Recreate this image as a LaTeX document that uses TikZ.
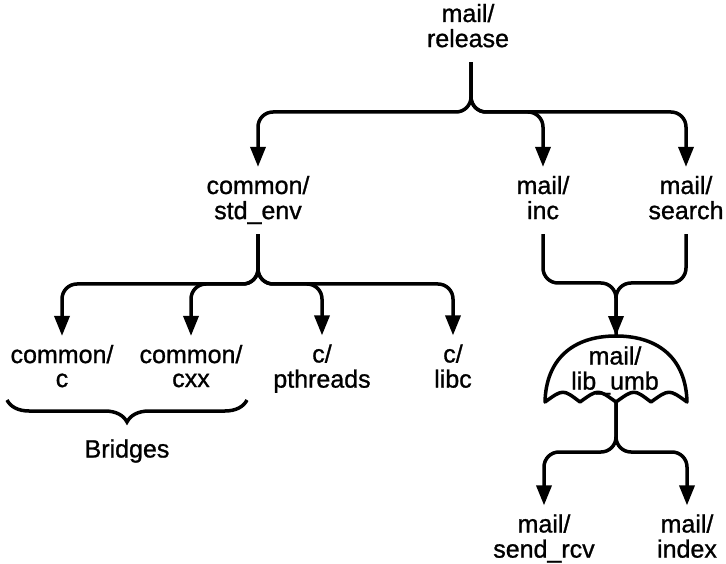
\documentclass[tikz,border=0pt]{standalone}
\usepackage{fontspec}
\setmainfont{Liberation Sans}[FakeBold=1]
\usetikzlibrary{arrows.meta,decorations.pathreplacing}
% two centred lines with fixed height/depth so all labels line up
\newcommand\twolines[2]{\rule[-6pt]{0pt}{24pt}#1\\\rule[-6pt]{0pt}{24pt}#2}
\begin{document}
\begin{tikzpicture}[x=1pt,y=-1pt,
  every node/.style={font=\fontsize{25}{24}\selectfont, align=center, inner sep=0pt},
  lbl/.style={outer sep=9pt},
  link/.style={line width=3.5pt, rounded corners=15pt},
  arr/.style={link, -{Triangle[length=20pt,width=15pt]}}]
\useasboundingbox (0,0) rectangle (726,564);

% package labels
\node[lbl] (release) at (468,28.5) {\twolines{mail/}{release}};
\node[lbl] (std)     at (258,200.5) {\twolines{common/}{std\_env}};
\node[lbl] (inc)     at (543,200.5) {\twolines{mail/}{inc}};
\node[lbl] (search)  at (686,200.5) {\twolines{mail/}{search}};
\node[lbl] (cc)      at (62,369) {\twolines{common/}{c}};
\node[lbl] (cxx)     at (191,369) {\twolines{common/}{cxx}};
\node[lbl] (pth)     at (322,369) {\twolines{c/}{pthreads}};
\node[lbl] (libc)    at (453,369) {\twolines{c/}{libc}};
\node      (umb)     at (615,371) {\twolines{mail/}{lib\_umb}};
\node[lbl] (send)    at (544,539) {\twolines{mail/}{send\_rcv}};
\node[lbl] (index)   at (687,539) {\twolines{mail/}{index}};
\node[anchor=base] (bridges) at (127,457.5) {Bridges};

% levels of the horizontal fork lines
\coordinate (k1) at (0,112);
\coordinate (k2) at (0,284);
\coordinate (k3) at (0,283);
\coordinate (k4) at (0,452);
\coordinate (umbtop) at (616,336);
\coordinate (umbbot) at (616,402);

% umbrella around mail/lib_umb
\draw[line width=3.5pt, line join=round]
  (545,402) .. controls (546,360) and (572,336) .. (umbtop)
  .. controls (660,336) and (686,360) .. (687,402)
  .. controls (669,389) .. (651,402)
  .. controls (634,389) .. (umbbot)
  .. controls (598,389) .. (580,402)
  .. controls (563,389) .. (545,402) -- cycle;

% mail/release fans out
\foreach \t in {std,inc,search}
  \draw[arr] ([xshift=3pt]release.south) -- ([xshift=3pt]release.south |- k1) -| (\t.north);

% common/std_env fans out
\foreach \t in {cc,cxx,pth,libc}
  \draw[arr] (std.south) -- (std.south |- k2) -| (\t.north);

% mail/inc and mail/search merge into the umbrella
\draw[link] (search.south) -- (search.south |- k3) -| (umbtop);
\draw[arr]  (inc.south) -- (inc.south |- k3) -| (umbtop);

% umbrella fans out
\foreach \t in {send,index}
  \draw[arr] (umbbot) -- (umbbot |- k4) -| (\t.north);

% brace under the bridges
\draw[line width=3.5pt, decorate, decoration={brace,mirror,amplitude=22pt}] (7,400) -- (247,400);
\end{tikzpicture}
\end{document}
